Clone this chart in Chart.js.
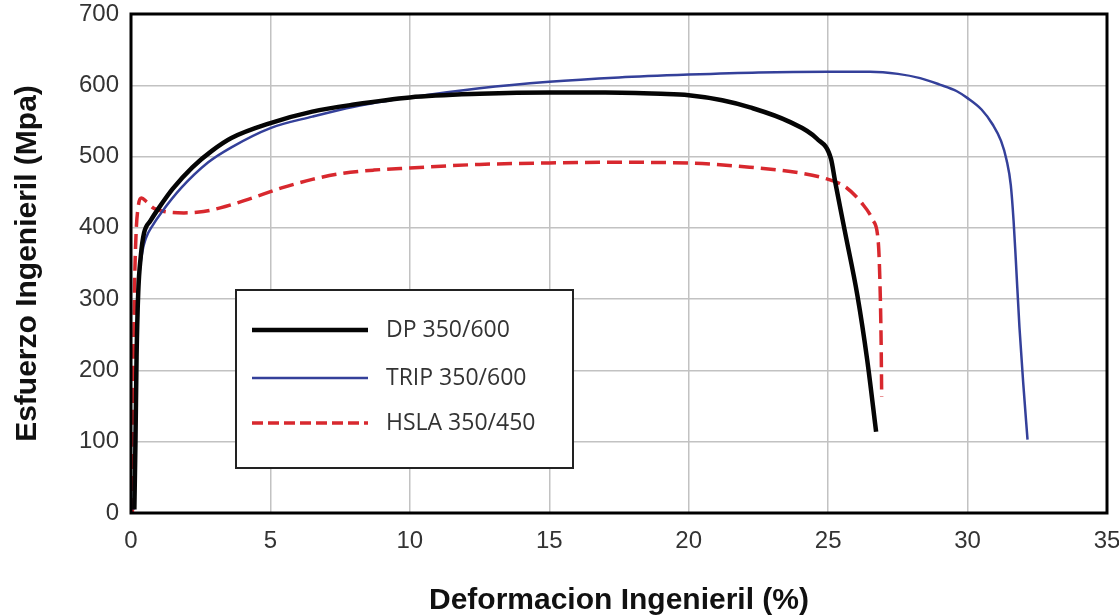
<!DOCTYPE html>
<html>
<head>
<meta charset="utf-8">
<style>
  html, body { margin: 0; padding: 0; background: #fff; }
  #wrap { width: 1119px; height: 616px; }
</style>
</head>
<body>
<div id="wrap"><canvas id="curvas" width="1119" height="616"></canvas></div>
<script src="https://cdn.jsdelivr.net/npm/chart.js@4.4.1/dist/chart.umd.min.js"></script>
<script>
// curvas esfuerzo-deformacion, valores leidos a ojo de la figura
const seriesNames = ["DP 350/600", "TRIP 350/600", "HSLA 350/450"];

const dpStrain = [0.12, 0.16, 0.2, 0.26, 0.35, 0.47, 0.7, 1.0, 1.5, 2.2, 2.9, 3.6, 5, 6.5, 8, 10, 12.5, 15, 17, 19, 20, 21.2, 22.2, 23.6, 24.6, 25.1, 25.25, 25.6, 26.05, 26.4, 26.72];
const dpStress = [5, 100, 220, 310, 360, 393, 410, 428, 455, 485, 508, 526, 547, 563, 573, 583, 588, 590, 590, 588, 586, 579, 569, 549, 525, 497, 465, 395, 305, 215, 114];

const tripStrain = [0.1, 0.14, 0.2, 0.28, 0.4, 0.54, 0.8, 1.08, 1.8, 2.77, 3.6, 5, 6.5, 8, 10, 12.5, 15, 17.5, 20, 22.5, 25, 26.5, 27.5, 28.3, 29, 29.6, 30, 30.5, 30.9, 31.2, 31.4, 31.55, 31.65, 31.73, 31.86, 32.0, 32.15];
const tripStress = [5, 100, 230, 320, 365, 386, 405, 421, 456, 492, 513, 540, 556, 570, 583, 596, 605, 611, 615, 618, 619, 619, 616, 610, 601, 592, 582, 566, 545, 522, 495, 460, 410, 355, 261, 180, 103];

const hslaStrain = [0.05, 0.08, 0.12, 0.18, 0.26, 0.38, 0.55, 0.8, 1.2, 1.9, 2.6, 3.2, 4.2, 5.4, 6.5, 7.5, 8.7, 10, 12.5, 15, 17, 20, 22.2, 24, 25, 25.6, 26.2, 26.6, 26.8, 26.86, 26.9, 26.92];
const hslaStress = [0, 150, 300, 390, 430, 442, 437, 428, 423, 421, 423, 428, 440, 456, 468, 476, 481, 484, 489, 491, 492, 491, 485, 477, 468, 458, 435, 411, 379, 320, 240, 163];

const xTicks = [0, 5, 10, 15, 20, 25, 30, 35];
const yTicks = [0, 100, 200, 300, 400, 500, 600, 700];
const xTitle = "Deformacion Ingenieril (%)";
const yTitle = "Esfuerzo Ingenieril (Mpa)";

function toPoints(xs, ys) {
  return xs.map((x, i) => ({ x: x, y: ys[i] }));
}

// marco negro alrededor del area de trazado
const marco = {
  id: "marco",
  afterDatasetsDraw(chart) {
    const a = chart.chartArea, ctx = chart.ctx;
    ctx.save();
    ctx.strokeStyle = "#000";
    ctx.lineWidth = 3;
    ctx.strokeRect(a.left, a.top, a.right - a.left, a.bottom - a.top);
    ctx.restore();
  }
};

// leyenda dentro del grafico, con caja blanca
const leyenda = {
  id: "leyenda",
  afterDraw(chart) {
    const a = chart.chartArea, ctx = chart.ctx;
    const bx = a.left + 105, by = a.top + 276, bw = 337, bh = 178;
    const rows = [40, 88, 133];
    ctx.save();
    ctx.fillStyle = "#fff";
    ctx.fillRect(bx, by, bw, bh);
    ctx.strokeStyle = "#222";
    ctx.lineWidth = 2;
    ctx.strokeRect(bx, by, bw, bh);
    chart.data.datasets.forEach((ds, i) => {
      const y = by + rows[i];
      ctx.beginPath();
      ctx.setLineDash(ds.legendDash || []);
      ctx.strokeStyle = ds.borderColor;
      ctx.lineWidth = ds.borderWidth;
      ctx.moveTo(bx + 16, y);
      ctx.lineTo(bx + 132, y);
      ctx.stroke();
      ctx.setLineDash([]);
      ctx.fillStyle = "#333";
      ctx.font = "23px 'Open Sans', 'Liberation Sans', Arial, sans-serif";
      ctx.textBaseline = "middle";
      ctx.fillText(ds.label, bx + 150, y);
    });
    ctx.restore();
  }
};

const tickFont = { family: "'Liberation Sans', Arial, sans-serif", size: 24 };
const titleFont = { family: "'Liberation Sans', Arial, sans-serif", size: 30, weight: "bold", lineHeight: 1 };

new Chart(document.getElementById("curvas"), {
  type: "line",
  data: {
    datasets: [{
      label: seriesNames[0],
      data: toPoints(dpStrain, dpStress),
      borderColor: "#050505",
      borderWidth: 4.5,
      legendDash: []
    }, {
      label: seriesNames[1],
      data: toPoints(tripStrain, tripStress),
      borderColor: "#34409a",
      borderWidth: 2.5,
      legendDash: []
    }, {
      label: seriesNames[2],
      data: toPoints(hslaStrain, hslaStress),
      borderColor: "#d8282e",
      borderWidth: 3.5,
      borderDash: [15, 7],
      legendDash: [11, 5]
    }]
  },
  options: {
    responsive: false,
    animation: false,
    events: [],
    cubicInterpolationMode: "monotone",
    elements: { point: { radius: 0 } },
    layout: { padding: { top: 14, right: 12, left: 0, bottom: 0 } },
    plugins: {
      legend: { display: false },
      tooltip: { enabled: false }
    },
    scales: {
      x: {
        type: "linear",
        min: 0,
        max: 35,
        afterBuildTicks: (s) => { s.ticks = xTicks.map(v => ({ value: v })); },
        // las etiquetas pueden salirse del area, no reservar espacio extra
        afterFit: (s) => { s.height = 103; s.paddingLeft = 0; s.paddingRight = 0; },
        ticks: { font: tickFont, color: "#333", padding: 14, maxRotation: 0 },
        grid: { color: "#c2c2c2", lineWidth: 1.5, drawTicks: false },
        border: { display: false },
        title: { display: true, text: xTitle, font: titleFont, color: "#111", padding: { top: 0, bottom: 0 } }
      },
      y: {
        min: 0,
        max: 700,
        afterBuildTicks: (s) => { s.ticks = yTicks.map(v => ({ value: v })); },
        afterFit: (s) => { s.width = 131; s.paddingTop = 0; s.paddingBottom = 0; },
        ticks: { font: tickFont, color: "#333", padding: 12 },
        grid: { color: "#c2c2c2", lineWidth: 1.5, drawTicks: false },
        border: { display: false },
        title: { display: true, text: yTitle, font: titleFont, color: "#111", padding: { top: 13, bottom: 0 } }
      }
    }
  },
  plugins: [marco, leyenda]
});
</script>
</body>
</html>
